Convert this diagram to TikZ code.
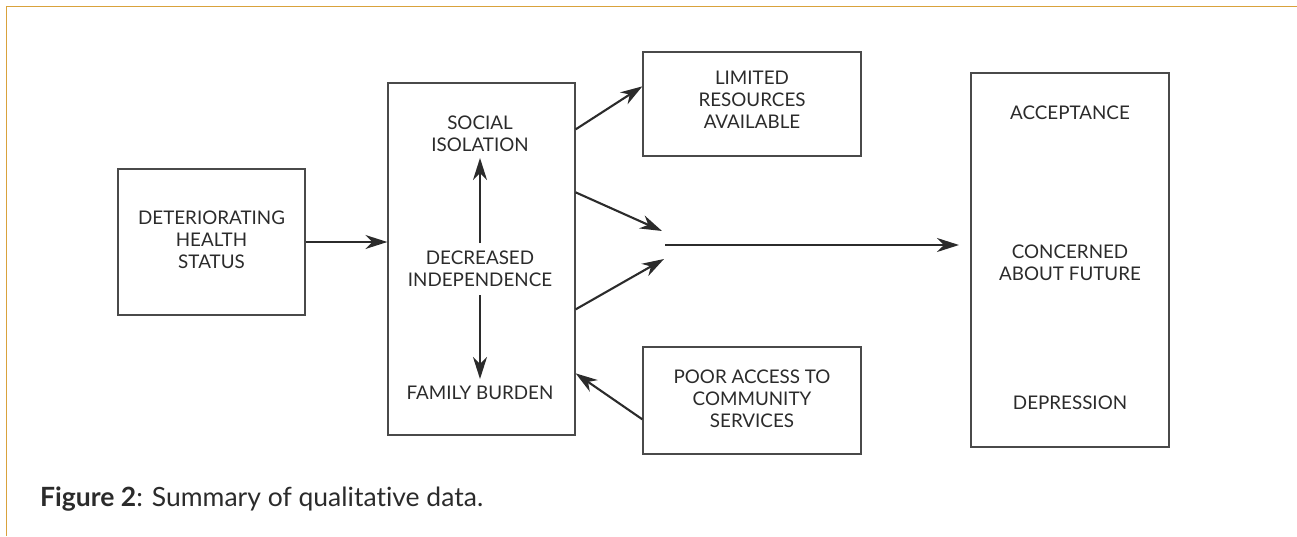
\documentclass[tikz,border=0pt]{standalone}
\usepackage{fontspec}
\setmainfont{Lato}[Ligatures={NoCommon}]
\usetikzlibrary{arrows.meta,calc}
\definecolor{frame}{HTML}{D9A23C}
\definecolor{ink}{HTML}{2B2B2B}
\definecolor{boxline}{HTML}{4A4A4A}
\tikzset{
  boxnode/.style={draw=boxline, line width=1.3pt, rectangle, inner sep=0pt},
  lbl/.style={text=ink, font=\fontsize{18.8}{22}\selectfont, align=center, inner sep=0pt},
  arr/.style={draw=ink, line width=2.1pt, -{Stealth[length=22pt,width=14pt,inset=7pt]}},
}
\begin{document}
\begin{tikzpicture}[x=1pt,y=-1pt]
\useasboundingbox (0,0) rectangle (1297,536);
\draw[frame, line width=1.4pt] (6.5,536) -- (6.5,6.5) -- (1297,6.5);

% boxes
\node[boxnode, minimum width=187pt, minimum height=146pt] (det) at (211.5,242) {};
\node[lbl] (dettxt) at (211.5,240) {DETERIORATING\\HEALTH\\STATUS};

\node[boxnode, minimum width=187pt, minimum height=352pt] (mid) at (481.5,259) {};
\node[lbl] (soc) at (480,134) {SOCIAL\\ISOLATION};
\node[lbl] (dec) at (480,269) {DECREASED\\INDEPENDENCE};
\node[lbl] (fam) at (480,393) {FAMILY BURDEN};

\node[boxnode, minimum width=218pt, minimum height=104pt] (lim) at (752,104) {};
\node[lbl] (limtxt) at (752,100) {LIMITED\\RESOURCES\\AVAILABLE};

\node[boxnode, minimum width=218pt, minimum height=107pt] (poor) at (752,400.5) {};
\node[lbl] (poortxt) at (752,399) {POOR ACCESS TO\\COMMUNITY\\SERVICES};

\node[boxnode, minimum width=198pt, minimum height=374pt] (out) at (1070,260) {};
\node[lbl] (acc) at (1070,113) {ACCEPTANCE};
\node[lbl] (con) at (1070,263) {CONCERNED\\ABOUT FUTURE};
\node[lbl] (dep) at (1070,403) {DEPRESSION};

% junction coordinates
\coordinate (j1) at (662,231);
\coordinate (j2) at (664,259);
\coordinate (js) at (665,245);
\coordinate (je) at (959,245);

% connectors
\draw[arr] (det.east |- dettxt.center) ++(0,2) coordinate (a0) -- (mid.west |- a0);
\draw[arr] ($(mid.north east)+(0,47)$) -- ($(lim.north west)+(0,35)$);
\draw[arr] ($(mid.north east)+(0,110)$) -- (j1);
\draw[arr] ($(mid.north east)+(0,227)$) -- (j2);
\draw[arr] (js) -- (je);
\draw[arr] ($(poor.north west)+(0,73)$) -- ($(mid.north east)+(0,291)$);
\draw[arr] (480,243) -- (480,158);
\draw[arr] (480,295) -- (480,379);

% caption
\node[anchor=base west, inner sep=0pt, text=ink, font=\fontsize{26.5}{30}\selectfont] (cap) at (40,506) {\textbf{Figure 2}: Summary of qualitative data.};
\end{tikzpicture}
\end{document}
